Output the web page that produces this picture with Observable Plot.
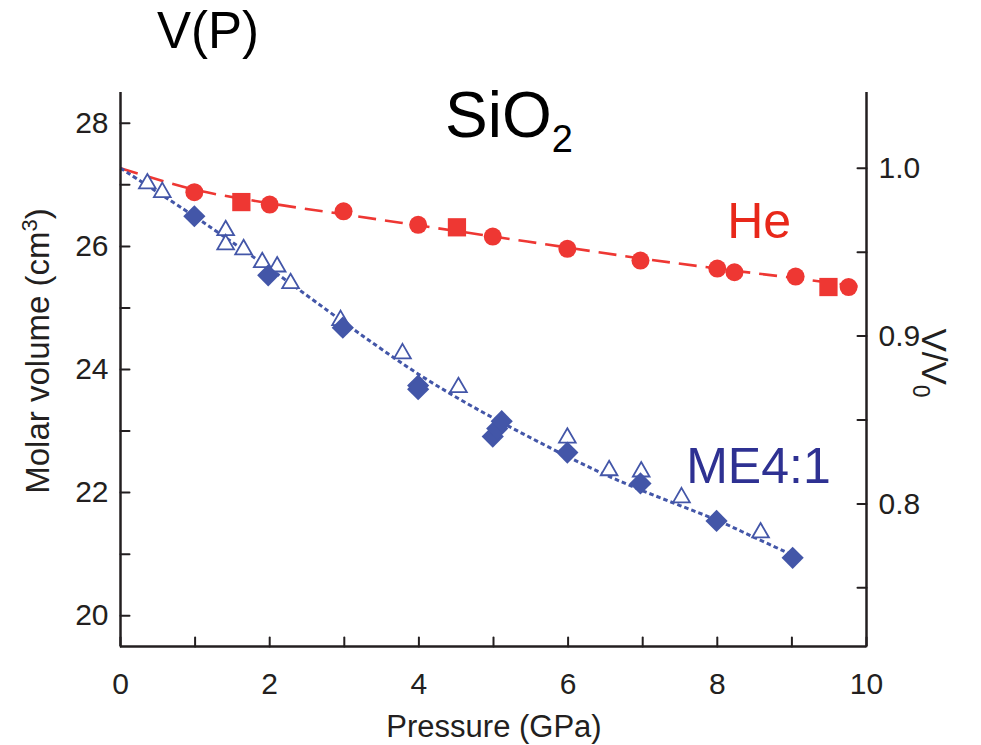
<!DOCTYPE html>
<html><head><meta charset="utf-8">
<script src="https://cdn.jsdelivr.net/npm/d3@7"></script>
<script src="https://cdn.jsdelivr.net/npm/@observablehq/plot@0.6"></script>
<style>body{margin:0;background:#fff;} #chart{width:981px;height:745px;}</style>
</head><body><div id="chart"></div>
<script>
// ---- data ----
const V0 = 27.27; // molar volume at P = 0 (cm^3), V/V0 = 1
const heCircleP = [0.99, 2.0, 2.99, 3.99, 4.99, 5.99, 6.97, 8.0, 8.23, 9.05, 9.76];
const heCircleV = [26.88, 26.68, 26.57, 26.35, 26.16, 25.96, 25.77, 25.64, 25.58, 25.51, 25.34];
const heSquareP = [1.62, 4.51, 9.49];
const heSquareV = [26.72, 26.31, 25.34];
const heFitP = [0, 1, 2, 3, 4, 5, 6, 7, 8, 9, 10];
const heFitV = [27.27, 26.92, 26.70, 26.52, 26.34, 26.16, 25.98, 25.80, 25.64, 25.49, 25.33];
const meDiamondP = [0.99, 1.98, 2.98, 3.99, 3.99, 4.99, 5.05, 5.11, 5.99, 6.97, 7.99, 9.01];
const meDiamondV = [26.49, 25.53, 24.68, 23.74, 23.68, 22.91, 23.04, 23.16, 22.65, 22.15, 21.54, 20.94];
const meTriangleP = [0.36, 0.56, 1.41, 1.41, 1.65, 1.90, 2.10, 2.28, 2.95, 3.78, 4.53, 5.99, 6.55, 6.98, 7.52, 8.58];
const meTriangleV = [27.02, 26.88, 26.26, 26.03, 25.95, 25.74, 25.67, 25.40, 24.80, 24.26, 23.71, 22.89, 22.36, 22.34, 21.92, 21.35];
const meFitP = [0, 1, 2, 3, 3.5, 4, 4.5, 5, 5.5, 6, 6.5, 7, 7.5, 8, 8.5, 9, 9.05];
const meFitV = [27.27, 26.48, 25.64, 24.76, 24.33, 23.92, 23.55, 23.21, 22.89, 22.58, 22.29, 22.03, 21.79, 21.55, 21.27, 20.99, 20.96];
const xTicks = [0, 1, 2, 3, 4, 5, 6, 7, 8, 9, 10];
const xTickLabels = [0, 2, 4, 6, 8, 10];
const yTicks = [20, 21, 22, 23, 24, 25, 26, 27, 28];
const yTickLabels = [20, 22, 24, 26, 28];
const rTicks = [0.75, 0.8, 0.85, 0.9, 0.95, 1.0];
const rTickLabels = [0.8, 0.9, 1.0];
const seriesLabels = ["He", "ME4:1"];
const seriesLabelP = [8.14, 7.59];
const seriesLabelV = [26.13, 22.15];

// ---- styling ----
const RED = "#ee3733", BLUE = "#4356a8", INK = "#231f20";
const FONT = "'Liberation Sans', Arial, Helvetica, sans-serif";
const pts = (P, V) => P.map((p, i) => ({p, v: V[i]}));
const tickShape = {draw(ctx, l) { ctx.moveTo(0, 0); ctx.lineTo(0, -l); }};
const tickLen = 9;

const plot = Plot.plot({
  width: 981, height: 745,
  marginLeft: 120, marginRight: 115, marginTop: 92, marginBottom: 99,
  x: {domain: [0, 10], axis: null},
  y: {domain: [19.5, 28.5], axis: null},
  style: {fontFamily: FONT, background: "white"},
  marks: [
    // fit curves
    Plot.line(pts(heFitP, heFitV), {x: "p", y: "v", stroke: RED, strokeWidth: 2.6, strokeDasharray: "18,9", strokeLinecap: "butt", curve: "catmull-rom"}),
    Plot.line(pts(meFitP, meFitV), {x: "p", y: "v", stroke: BLUE, strokeWidth: 3, strokeDasharray: "4.5,3", strokeLinecap: "butt", curve: "catmull-rom"}),
    // data
    Plot.dot(pts(heCircleP, heCircleV), {x: "p", y: "v", r: 9, fill: RED, symbol: "circle"}),
    Plot.dot(pts(heSquareP, heSquareV), {x: "p", y: "v", r: 10.3, fill: RED, symbol: "square"}),
    Plot.dot(pts(meTriangleP, meTriangleV), {x: "p", y: "v", r: 6.2, fill: "white", stroke: BLUE, strokeWidth: 1.8, symbol: "triangle"}),
    Plot.dot(pts(meDiamondP, meDiamondV), {x: "p", y: "v", r: 10, fill: BLUE, symbol: "diamond2"}),
    // axis lines (left, right, bottom)
    Plot.ruleX([0, 10], {stroke: INK, strokeWidth: 2.5}),
    Plot.ruleY([19.5], {stroke: INK, strokeWidth: 2.5}),
    // inward ticks
    Plot.vector(xTicks, {x: d => d, frameAnchor: "bottom", rotate: 0, length: tickLen, anchor: "start", shape: tickShape, stroke: INK, strokeWidth: 2}),
    Plot.vector(yTicks, {y: d => d, frameAnchor: "left", rotate: 90, length: tickLen, anchor: "start", shape: tickShape, stroke: INK, strokeWidth: 2}),
    Plot.vector(rTicks, {y: d => d * V0, frameAnchor: "right", rotate: -90, length: tickLen, anchor: "start", shape: tickShape, stroke: INK, strokeWidth: 2}),
    // tick labels
    Plot.text(xTickLabels, {x: d => d, frameAnchor: "bottom", text: d => String(d), lineAnchor: "top", dy: 26, fontSize: 30, fill: INK}),
    Plot.text(yTickLabels, {y: d => d, frameAnchor: "left", text: d => String(d), textAnchor: "end", dx: -12, fontSize: 30, fill: INK}),
    Plot.text(rTickLabels, {y: d => d * V0, frameAnchor: "right", text: d => d.toFixed(1), textAnchor: "start", dx: 12, fontSize: 30, fill: INK})
  ]
});

// ---- text annotations ----
const svg = d3.select(plot);
const sx = plot.scale("x"), sy = plot.scale("y");
const txt = () => svg.append("text").attr("font-family", FONT).attr("text-anchor", "start");
txt().attr("x", 157).attr("y", 48).attr("font-size", 51).attr("fill", "#000").text("V(P)");
const t = txt().attr("x", 445).attr("y", 137).attr("font-size", 64).attr("fill", "#000");
t.append("tspan").text("SiO");
t.append("tspan").attr("font-size", 38).attr("dy", 15).text("2");
const labelColors = ["#e8281a", "#2e3192"];
seriesLabels.forEach((s, i) => {
  txt().attr("x", sx.apply(seriesLabelP[i])).attr("y", sy.apply(seriesLabelV[i]))
    .attr("font-size", 50).attr("fill", labelColors[i]).text(s);
});
txt().attr("x", 494).attr("y", 737).attr("text-anchor", "middle").attr("font-size", 31).attr("fill", INK).text("Pressure (GPa)");
const yl = txt().attr("transform", "translate(49,351) rotate(-90)").attr("text-anchor", "middle").attr("font-size", 33).attr("fill", INK);
yl.append("tspan").text("Molar volume (cm");
yl.append("tspan").attr("font-size", 22).attr("dy", -12).text("3");
yl.append("tspan").attr("dy", 12).text(")");
const rl = txt().attr("transform", "translate(922,363) rotate(90)").attr("text-anchor", "middle").attr("font-size", 35).attr("fill", INK);
rl.append("tspan").text("V/V");
rl.append("tspan").attr("font-size", 23).attr("dy", 9).text("0");

document.getElementById("chart").appendChild(plot);
</script>
</body></html>
